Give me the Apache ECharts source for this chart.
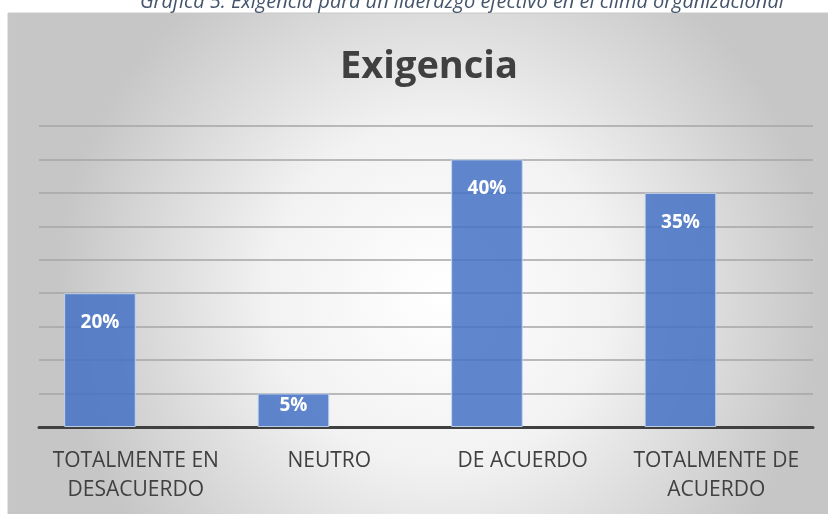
<!DOCTYPE html>
<html><head><meta charset="utf-8">
<script src="https://cdn.jsdelivr.net/npm/echarts@6/dist/echarts.min.js"></script>
<style>html,body{margin:0;padding:0;background:#fff}#c{width:828px;height:514px}</style>
</head><body><div id="c"></div>
<script>
var categories = ['TOTALMENTE EN\nDESACUERDO', 'NEUTRO', 'DE ACUERDO', 'TOTALMENTE DE\nACUERDO'];
var values = [20, 5, 40, 35];
var emptySeries = [null, null, null, null];
var yTicks = [0, 5, 10, 15, 20, 25, 30, 35, 40, 45];
var chartTitle = 'Exigencia';
var caption = 'Gráfica 5. Exigencia para un liderazgo efectivo en el clima organizacional';

var chart = echarts.init(document.getElementById('c'), null, {renderer: 'canvas'});
var seriesData = values.map(function (v) {
  var item = {value: v};
  if (v < 10) item.label = {distance: 3};
  return item;
});
chart.setOption({
  animation: false,
  graphic: [
    {type: 'rect', z: -10, shape: {x: 8, y: 13, width: 830, height: 510},
     style: {fill: new echarts.graphic.RadialGradient(0.52, 0.55, 0.75, [
       {offset: 0, color: '#ffffff'}, {offset: 0.45, color: '#f2f2f2'}, {offset: 1, color: '#c6c6c6'}]),
       stroke: '#c8c8c8', lineWidth: 1}},
    {type: 'text', left: 140, top: -8, z: 10,
     style: {text: caption, font: 'italic 20px "Open Sans"', fill: '#44546A'}}
  ],
  title: {text: chartTitle, left: 424, textAlign: 'center', top: 43,
    textStyle: {fontFamily: 'Open Sans', fontWeight: 'bold', fontSize: 38, color: '#404040'}},
  grid: {left: 39, right: 15, top: 126, bottom: 87},
  xAxis: {type: 'category', data: categories,
    axisLine: {lineStyle: {color: '#404040', width: 3}},
    axisTick: {show: false},
    axisLabel: {interval: 0, fontFamily: 'Open Sans', fontSize: 21, color: '#404040', lineHeight: 29, margin: 20}},
  yAxis: {type: 'value', min: yTicks[0], max: yTicks[yTicks.length - 1], interval: 5,
    axisLabel: {show: false}, axisLine: {show: false}, axisTick: {show: false},
    splitLine: {lineStyle: {color: '#a6a6a6', width: 1.5}}},
  series: [{type: 'bar', data: seriesData, barWidth: '37%', barGap: '0%',
    itemStyle: {color: 'rgba(68,114,196,0.85)', borderColor: 'rgba(200,215,240,0.9)', borderWidth: 1},
    label: {show: true, position: 'insideTop', distance: 20, formatter: '{c}%',
      fontFamily: 'Open Sans', fontWeight: 'bold', fontSize: 19, color: '#ffffff'}},
    {type: 'bar', data: emptySeries, barWidth: '37%', barGap: '0%'}]
});
</script></body></html>
